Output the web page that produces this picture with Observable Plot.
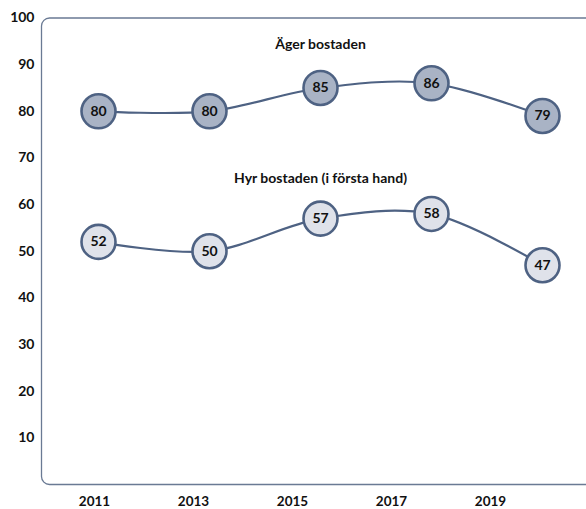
<!DOCTYPE html>
<html>
<head>
<meta charset="utf-8">
<script src="https://cdn.jsdelivr.net/npm/d3@7"></script>
<script src="https://cdn.jsdelivr.net/npm/@observablehq/plot@0.6"></script>
<style>
  html, body { margin: 0; padding: 0; background: #fff; overflow: hidden; }
  #wrap { position: relative; width: 586px; height: 509px; overflow: hidden; }
  #wrap svg { font-family: Lato, "Open Sans", sans-serif; }
  #xaxis { position: absolute; left: 0; top: 494px; height: 15px; }
</style>
</head>
<body>
<div id="wrap"><div id="main"></div><div id="xaxis"></div></div>
<script>
const years = [2011, 2013, 2015, 2017, 2019];
const ager = [80, 80, 85, 86, 79];
const hyr = [52, 50, 57, 58, 47];
const seriesNames = ["Äger bostaden", "Hyr bostaden (i första hand)"];
const yTicks = [10, 20, 30, 40, 50, 60, 70, 80, 90, 100];

const series = [
  {name: seriesNames[0], values: ager, fill: "#a9b3c5"},
  {name: seriesNames[1], values: hyr, fill: "#dfe2ea"}
];
const rows = series.flatMap(s => years.map((yr, i) => ({series: s.name, year: yr, value: s.values[i], fill: s.fill})));
const labels = series.map(s => ({series: s.name, year: 2015, value: Math.max(...s.values)}));

const lineColor = "#4e6283";

const main = Plot.plot({
  width: 586,
  height: 509,
  marginLeft: 41,
  marginRight: -12,
  marginTop: 17.5,
  marginBottom: 25,
  x: {domain: [2011, 2019], range: [98, 542], axis: null},
  y: {domain: [0, 100], ticks: yTicks},
  marks: [
    Plot.frame({stroke: "#6a7a94", strokeWidth: 1.3, rx: 8}),
    Plot.axisY({ticks: yTicks, tickSize: 0, tickPadding: 7, label: null, fontWeight: "bold", fontSize: 14, fill: "#111"}),
    Plot.line(rows, {x: "year", y: "value", z: "series", curve: "catmull-rom", stroke: lineColor, strokeWidth: 2.2}),
    Plot.dot(rows, {x: "year", y: "value", r: 17, fill: "fill", stroke: lineColor, strokeWidth: 2.6}),
    Plot.text(rows, {x: "year", y: "value", text: d => String(d.value), fontWeight: "bold", fontSize: 14, fill: "#111"}),
    Plot.text(labels.slice(0, 1), {x: "year", y: "value", text: "series", dy: -39, fontWeight: "bold", fontSize: 14, fill: "#111"}),
    Plot.text(labels.slice(1), {x: "year", y: "value", text: "series", dy: -35, fontWeight: "bold", fontSize: 14, fill: "#111"})
  ]
});
document.getElementById("main").appendChild(main);

const xaxis = Plot.plot({
  width: 586,
  height: 15,
  margin: 0,
  style: {overflow: "visible"},
  x: {type: "point", domain: years, range: [93, 490], padding: 0, axis: null},
  marks: [
    Plot.text(years, {x: d => d, text: d => String(d), frameAnchor: "middle", fontWeight: "bold", fontSize: 13.5, fill: "#111"})
  ]
});
document.getElementById("xaxis").appendChild(xaxis);
</script>
</body>
</html>
